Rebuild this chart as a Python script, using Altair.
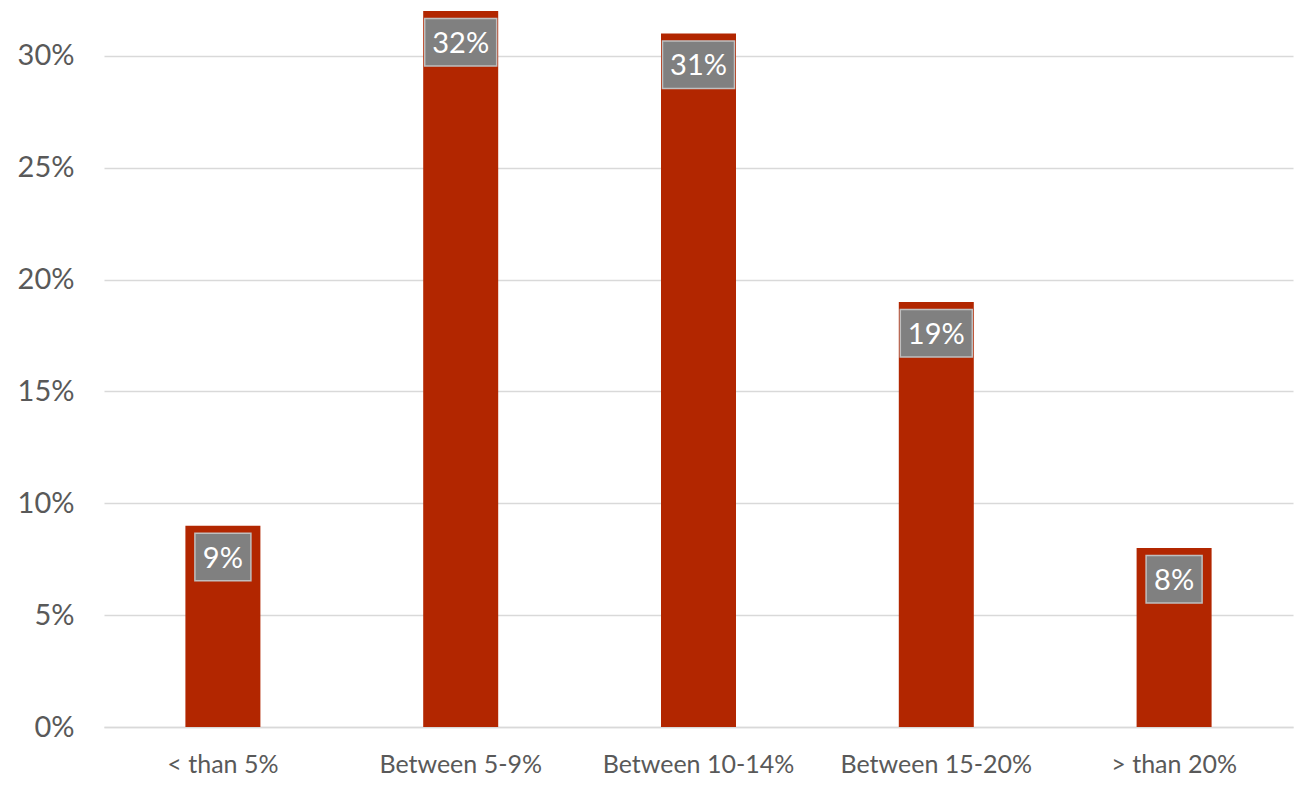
import altair as alt
import pandas as pd

categories = ["< than 5%", "Between 5-9%", "Between 10-14%", "Between 15-20%", "> than 20%"]
values = [0.09, 0.32, 0.31, 0.19, 0.08]
labels = ["9%", "32%", "31%", "19%", "8%"]
y_ticks = [0, 0.05, 0.10, 0.15, 0.20, 0.25, 0.30]

df = pd.DataFrame({"category": categories, "value": values, "label": labels})

FONT = "Lato"

x_enc = alt.X(
    "category:N",
    sort=categories,
    scale=alt.Scale(paddingInner=0, paddingOuter=0),
    axis=alt.Axis(
        title=None,
        labelAngle=0,
        labelFont=FONT,
        labelFontSize=25,
        labelColor="#595959",
        labelPadding=25,
        labelLimit=400,
        ticks=False,
        domain=True,
        domainColor="#D9D9D9",
        domainWidth=1.5,
        grid=False,
    ),
)

y_scale = alt.Scale(domain=[0, 0.32], nice=False, zero=True)

bars = alt.Chart(df).mark_bar(width=75, color="#B22600").encode(
    x=x_enc,
    y=alt.Y(
        "value:Q",
        scale=y_scale,
        axis=alt.Axis(
            title=None,
            values=y_ticks,
            format=".0%",
            labelFont=FONT,
            labelFontSize=29,
            labelColor="#595959",
            labelPadding=30,
            ticks=False,
            domain=False,
            grid=True,
            gridColor="#D9D9D9",
            gridWidth=1.3,
        ),
    ),
)

def box(width, filt):
    return (
        alt.Chart(df)
        .transform_filter(filt)
        .mark_rect(
            width=width,
            color="#808080",
            stroke="#BFBFBF",
            strokeWidth=1.5,
            yOffset=7.5,
            y2Offset=55,
        )
        .encode(
            x=alt.X("category:N", sort=categories),
            y=alt.Y("value:Q", scale=y_scale),
            y2="value:Q",
        )
    )

box_small = box(56, "length(datum.label) <= 2")
box_big = box(72, "length(datum.label) > 2")

text = alt.Chart(df).mark_text(
    font=FONT,
    fontSize=29,
    color="white",
    baseline="middle",
    align="center",
    yOffset=33,
).encode(
    x=alt.X("category:N", sort=categories),
    y=alt.Y("value:Q", scale=y_scale),
    text="label:N",
)

chart = (
    alt.layer(bars, box_small, box_big, text)
    .properties(
        width=1189,
        height=716,
        autosize=alt.AutoSizeParams(type="none"),
        padding={"left": 104, "top": 11, "right": 13, "bottom": 58},
        background="white",
    )
    .configure_view(stroke=None)
)

chart.save("out.html", embed_options={"renderer": "svg", "actions": False})
